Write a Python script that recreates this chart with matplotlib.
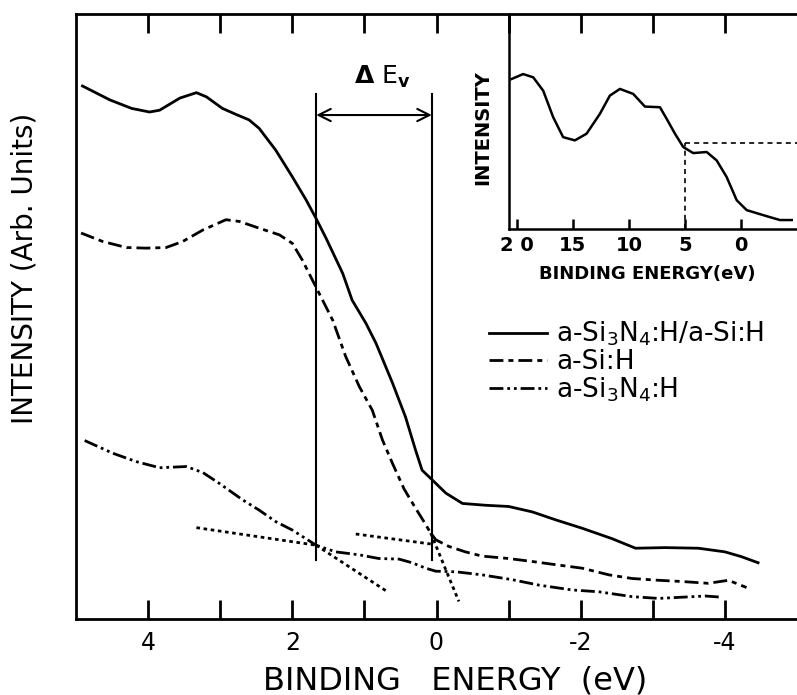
import matplotlib
matplotlib.use("Agg")
import matplotlib.pyplot as plt

plt.rcParams['font.family'] = ['DejaVu Sans']

# main spectra, binding energy (eV) vs intensity (arb. units, 0-100)
het_x = [4.91, 4.53, 4.23, 3.98, 3.84, 3.56, 3.33, 3.19, 2.97, 2.78, 2.60, 2.46, 2.23, 2.00,
         1.81, 1.67, 1.53, 1.30, 1.17, 0.98, 0.84, 0.61, 0.43, 0.29, 0.20, 0.06, -0.13, -0.36,
         -0.68, -1.00, -1.33, -1.65, -2.02, -2.43, -2.76, -3.17, -3.63, -4.00, -4.23, -4.46]
het_y = [88.1, 85.8, 84.4, 83.8, 84.1, 86.1, 87.0, 86.3, 84.4, 83.4, 82.5, 81.1, 77.5, 73.1,
         69.3, 66.2, 62.9, 57.1, 52.7, 48.9, 45.6, 39.0, 33.4, 27.9, 24.6, 23.0, 20.8, 19.1,
         18.8, 18.6, 17.7, 16.4, 15.0, 13.3, 11.7, 11.8, 11.7, 11.1, 10.3, 9.3]

si_x = [4.93, 4.63, 4.30, 4.03, 3.75, 3.52, 3.24, 2.92, 2.73, 2.46, 2.18, 2.00, 1.86, 1.72,
        1.58, 1.44, 1.26, 1.07, 0.89, 0.75, 0.61, 0.45, 0.30, 0.18, 0.08, 0.01, -0.17, -0.40,
        -0.63, -1.00, -1.33, -1.70, -2.02, -2.39, -2.71, -3.08, -3.40, -3.77, -4.05, -4.30]
si_y = [63.8, 62.4, 61.4, 61.3, 61.4, 62.4, 64.3, 66.0, 65.7, 64.6, 63.5, 62.1, 59.3, 56.0,
        52.7, 49.4, 43.4, 38.4, 34.5, 29.6, 25.7, 21.5, 18.5, 16.2, 14.2, 13.1, 12.0, 11.1,
        10.4, 10.0, 9.5, 8.9, 8.4, 7.3, 6.7, 6.4, 6.2, 5.9, 6.4, 5.2]

sin_x = [4.88, 4.49, 4.16, 3.84, 3.47, 3.24, 3.01, 2.69, 2.46, 2.23, 2.00, 1.67, 1.40, 1.07,
         0.80, 0.52, 0.34, 0.15, 0.01, -0.27, -0.63, -1.05, -1.42, -1.88, -2.25, -2.71, -3.08,
         -3.40, -3.73, -3.96]
sin_y = [29.5, 27.4, 26.0, 25.0, 25.2, 24.2, 22.4, 19.7, 18.0, 16.1, 14.7, 12.2, 11.1, 10.6,
         10.0, 9.9, 9.3, 8.4, 7.9, 7.8, 7.3, 6.5, 5.6, 4.8, 4.5, 3.7, 3.4, 3.6, 3.8, 3.6]

# extrapolated edge / background lines
fit_lines = [
    ([3.33, 1.67], [15.1, 12.2]),
    ([1.67, 0.68], [12.2, 4.5]),
    ([1.12, 0.08], [14.05, 12.4]),
    ([0.08, -0.31], [14.2, 2.9]),
]
ev_edges = [1.668, 0.065]
ev_top, ev_bottom, ev_arrow = 86.8, 9.8, 83.3

# inset: wide range spectrum
ins_x = [20.47, 19.44, 18.54, 17.65, 16.76, 15.87, 14.82, 13.78, 12.59, 11.70, 10.80, 9.62,
         8.57, 7.23, 6.63, 5.89, 5.15, 4.26, 3.06, 2.17, 1.28, 0.38, -0.51, -2.29, -3.48, -4.53]
ins_y = [69.8, 72.1, 70.6, 64.4, 52.1, 42.8, 41.3, 44.4, 53.6, 62.1, 65.2, 62.9,
         57.0, 56.7, 51.3, 44.4, 38.2, 35.4, 35.9, 32.0, 24.3, 13.5, 8.9, 6.1, 4.3, 4.3]
ins_mark_x, ins_mark_y = 5, 40

ls_si = (0, (5, 1.8, 1.8, 1.8))
ls_sin = (0, (5, 1.4, 1.0, 1.4, 1.0, 1.4))
ls_dot = (0, (1.3, 1.3))

fig = plt.figure(figsize=(7.97, 6.95), dpi=100)
ax = fig.add_axes([76 / 797, 76 / 695, 721 / 797, 605 / 695])

ax.plot(het_x, het_y, color='black', lw=2.0, label='a-Si$_3$N$_4$:H/a-Si:H')
ax.plot(si_x, si_y, color='black', lw=2.0, ls=ls_si, label='a-Si:H')
ax.plot(sin_x, sin_y, color='black', lw=2.0, ls=ls_sin, label='a-Si$_3$N$_4$:H')
for fx, fy in fit_lines:
    ax.plot(fx, fy, color='black', lw=2.0, ls=ls_dot)

for e in ev_edges:
    ax.plot([e, e], [ev_bottom, ev_top], color='black', lw=1.5)
ax.annotate('', xy=(ev_edges[1], ev_arrow), xytext=(ev_edges[0], ev_arrow),
            arrowprops=dict(arrowstyle='<->', color='black', lw=1.5,
                            mutation_scale=22, shrinkA=0, shrinkB=0))
ax.text(sum(ev_edges) / 2 - 0.12, 89.6, r'$\mathbf{\Delta}$ E$_{\mathbf{v}}$', ha='center',
        va='center', fontsize=18)

ax.set_xlim(5, -5)
ax.set_ylim(0, 100)
ticks = list(range(4, -5, -1))
ax.set_xticks(ticks)
ax.set_xticklabels([str(t) if t % 2 == 0 else '' for t in ticks])
ax.set_yticks([])
ax.tick_params(axis='x', direction='in', length=14, width=2, top=True,
               labelsize=17, pad=9)
ax.spines['right'].set_visible(False)
for s in ['left', 'bottom', 'top']:
    ax.spines[s].set_linewidth(2)

leg = ax.legend(loc='upper left', bbox_to_anchor=(489 / 797, 1 - 320 / 695),
                bbox_transform=fig.transFigure, frameon=False, fontsize=19,
                handlelength=2.2, handletextpad=0.35, labelspacing=0.02,
                borderpad=0, borderaxespad=0)

fig.text(25 / 797, 1 - 268 / 695, 'INTENSITY (Arb. Units)', rotation=90,
         ha='center', va='center', fontsize=20)
fig.text(455 / 797, 1 - 681 / 695, 'BINDING   ENERGY  (eV)', ha='center', va='center',
         fontsize=23)

# inset
axin = fig.add_axes([509 / 797, 1 - 229.3 / 695, 288 / 797, 215.3 / 695])
axin.patch.set_alpha(0)
axin.plot(ins_x, ins_y, color='black', lw=1.8)
axin.plot([ins_mark_x, ins_mark_x], [0, ins_mark_y], color='black', lw=1.2, ls=(0, (3, 2.5)))
axin.plot([ins_mark_x, -5], [ins_mark_y, ins_mark_y], color='black', lw=1.2, ls=(0, (3, 2.5)))
axin.set_xlim(20.7, -5)
axin.set_ylim(0, 100)
axin.set_xticks([20, 15, 10, 5, 0])
axin.set_xticklabels(['2 0', '15', '10', '5', '0'])
axin.set_yticks([])
axin.tick_params(axis='x', direction='in', length=7, width=1.8, labelsize=14, pad=5)
for lab in axin.get_xticklabels():
    lab.set_fontweight('bold')
axin.spines['top'].set_visible(False)
axin.spines['right'].set_visible(False)
axin.spines['left'].set_linewidth(1.8)
axin.spines['bottom'].set_linewidth(1.8)
fig.text(483 / 797, 1 - 128 / 695, 'INTENSITY', rotation=90, ha='center', va='center',
         fontsize=14, fontweight='bold')
fig.text(647 / 797, 1 - 274 / 695, 'BINDING ENERGY(eV)', ha='center', va='center',
         fontsize=13, fontweight='bold')

fig.savefig('out.png', dpi=100)
